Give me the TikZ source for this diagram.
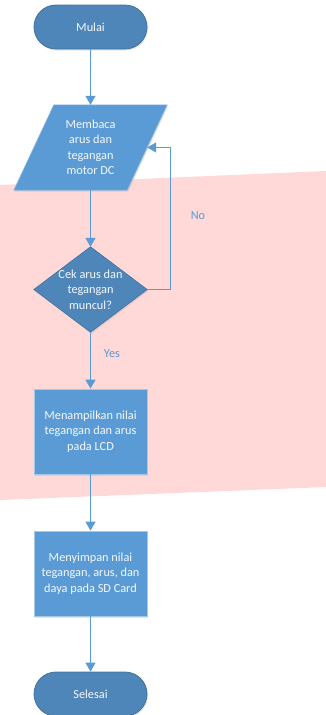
\documentclass[tikz,border=0pt]{standalone}
\usepackage{fontspec}
\setmainfont{Carlito}
\usetikzlibrary{arrows.meta,backgrounds,shadows}
\definecolor{boxblue}{HTML}{5B9BD5}
\definecolor{darkblue}{HTML}{4F86B9}
\definecolor{edgeblue}{HTML}{41719C}
\definecolor{pinkbg}{HTML}{FFD8D8}
\begin{document}
\begin{tikzpicture}[
        x=1pt, y=-1pt,
        font=\fontsize{12.3}{15.5}\selectfont,
        textbox/.style={minimum width=113pt, minimum height=85pt, inner sep=0pt, align=center, text=white!93!boxblue},
        terminal/.style={draw=edgeblue, fill=darkblue, rounded corners=22pt, minimum width=113pt, minimum height=44pt, inner sep=0pt, text=white!93!boxblue, line width=0.8pt, shade},
        process/.style={textbox, draw=boxblue!55!white, fill=boxblue, line width=0.8pt, shade},
        iobox/.style={draw=boxblue!70!white, fill=boxblue, line width=0.6pt, shade},
        decision/.style={draw=edgeblue, fill=darkblue, line width=0.6pt, shade},
        shade/.style={drop shadow={shadow xshift=1pt, shadow yshift=-1.5pt, opacity=0.2}},
        flow/.style={draw=boxblue, line width=1.3pt, -{Triangle[width=10pt,length=9pt]}},
        lbl/.style={text=boxblue}
    ]
    \useasboundingbox (0,0) rectangle (326,715);

    \node[terminal] (mulai) at (90.5,27) {Mulai};
    \node[textbox] (baca) at (90.5,147.5) {Membaca\\arus dan\\tegangan\\motor DC};
    \node[textbox] (cek) at (90.5,289.5) {Cek arus dan\\tegangan\\muncul?};
    \node[process] (tampil) at (90.5,431.5) {Menampilkan nilai\\tegangan dan arus\\pada LCD};
    \node[process] (simpan) at (90.5,573.5) {Menyimpan nilai\\tegangan, arus, dan\\daya pada SD Card};
    \node[terminal] (selesai) at (90.5,694) {Selesai};

    \begin{scope}[on background layer]
        \fill[pinkbg] (0,185) -- (326,171) -- (326,487) -- (0,500) -- cycle;
        \draw[iobox] ([xshift=-20pt]baca.south west) -- ([xshift=-20pt]baca.south east)
            -- ([xshift=20pt]baca.north east) -- ([xshift=20pt]baca.north west) -- cycle;
        \draw[decision] (cek.north) -- (cek.east) -- (cek.south) -- (cek.west) -- cycle;
    \end{scope}

    \draw[flow] (mulai) -- (baca);
    \draw[flow] (baca) -- (cek);
    \draw[flow] (cek) -- (tampil);
    \draw[flow] (tampil) -- (simpan);
    \draw[flow] (simpan) -- (selesai);
    \draw[flow] (cek.east) -- ++(23,0) |- (baca.east);

    \node[lbl] (no) at (198,216) {No};
    \node[lbl] (yes) at (112,354) {Yes};
\end{tikzpicture}
\end{document}
